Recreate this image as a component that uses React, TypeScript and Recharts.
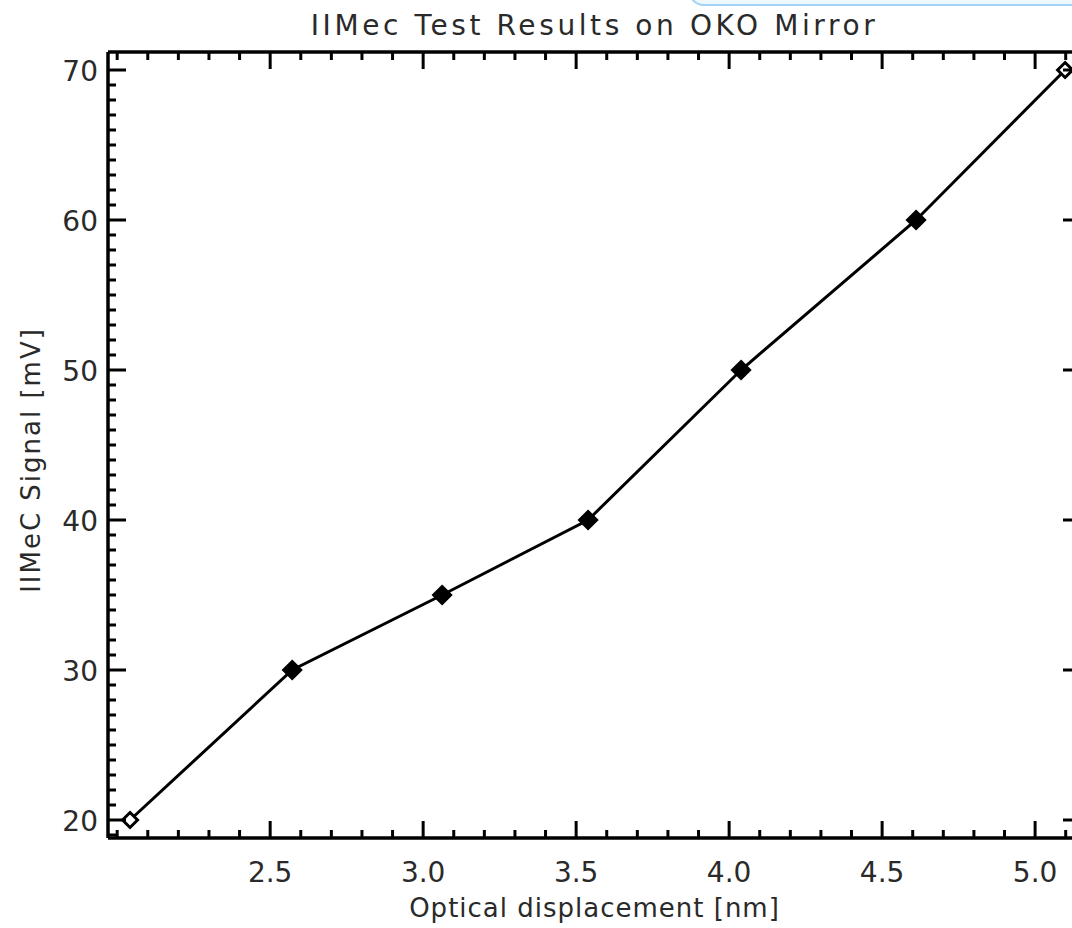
import React from 'react';
import { LineChart, Line, XAxis, YAxis, ReferenceLine } from 'recharts';

// values
const displacement = [2.042, 2.572, 3.062, 3.539, 4.039, 4.611, 5.098];
const signal = [20, 30, 35, 40, 50, 60, 70];

const xMajorTicks = [2.5, 3.0, 3.5, 4.0, 4.5, 5.0];
const xMajorLabels = ['2.5', '3.0', '3.5', '4.0', '4.5', '5.0'];
const yMajorTicks = [20, 30, 40, 50, 60, 70];
const yMajorLabels = ['20', '30', '40', '50', '60', '70'];

const xDomain: [number, number] = [1.97, 5.15];
const yDomain: [number, number] = [18.8, 71.2];

// minor ticks every 0.1 on x, every 1 on y
const xTicks = Array.from({ length: 32 }, (_, i) => Math.round((2.0 + i * 0.1) * 10) / 10);
const yTicks = Array.from({ length: 52 }, (_, i) => 19 + i);

const data = displacement.map((x, i) => ({ x, y: signal[i] }));

// frame
const CHART_W = 1100;
const CHART_H = 928;
const MARGIN = { top: 52, right: 19, bottom: 0, left: 0 };
const Y_AXIS_W = 108;
const X_AXIS_H = 90;
const PLOT_TOP = MARGIN.top;
const PLOT_BOTTOM = CHART_H - MARGIN.bottom - X_AXIS_H;
const PLOT_LEFT = MARGIN.left + Y_AXIS_W;
const PLOT_RIGHT = CHART_W - MARGIN.right;

const FONT = '"DejaVu Sans", sans-serif';
const INK = '#2a2a2a';

const findMajor = (list: number[], v: number) => list.findIndex((t) => Math.abs(t - v) < 1e-6);

const XTick = (props: any) => {
  const { x, payload } = props;
  const idx = findMajor(xMajorTicks, payload.value);
  const len = idx >= 0 ? 17 : 8;
  return (
    <g>
      <line x1={x} x2={x} y1={PLOT_BOTTOM} y2={PLOT_BOTTOM - len} stroke="#000" strokeWidth={3} />
      <line x1={x} x2={x} y1={PLOT_TOP} y2={PLOT_TOP + len} stroke="#000" strokeWidth={3} />
      {idx >= 0 && (
        <text x={x} y={PLOT_BOTTOM + 44} textAnchor="middle" fontFamily={FONT} fontSize={28} fill={INK}>
          {xMajorLabels[idx]}
        </text>
      )}
    </g>
  );
};

const YTick = (props: any) => {
  const { y, payload } = props;
  const idx = findMajor(yMajorTicks, payload.value);
  const len = idx >= 0 ? 18 : 8;
  return (
    <g>
      <line x1={PLOT_LEFT} x2={PLOT_LEFT + len} y1={y} y2={y} stroke="#000" strokeWidth={3} />
      <line x1={PLOT_RIGHT} x2={PLOT_RIGHT - len} y1={y} y2={y} stroke="#000" strokeWidth={3} />
      {idx >= 0 && (
        <text x={PLOT_LEFT - 10} y={y + 11} textAnchor="end" fontFamily={FONT} fontSize={28} fill={INK}>
          {yMajorLabels[idx]}
        </text>
      )}
    </g>
  );
};

const Diamond = (props: any) => {
  const { cx, cy, index } = props;
  if (cx == null || cy == null) return null;
  const hollow = index === 0 || index === displacement.length - 1;
  const r = hollow ? 7.5 : 8.5;
  return (
    <path
      key={`d-${index}`}
      d={`M${cx},${cy - r} L${cx + r},${cy} L${cx},${cy + r} L${cx - r},${cy} Z`}
      fill={hollow ? '#fff' : '#000'}
      stroke="#000"
      strokeWidth={3}
    />
  );
};

const XTitle = () => (
  <text
    x={(PLOT_LEFT + PLOT_RIGHT) / 2}
    y={CHART_H - 11}
    textAnchor="middle"
    fontFamily={FONT}
    fontSize={26}
    letterSpacing={1}
    fill={INK}
  >
    Optical displacement [nm]
  </text>
);

const YTitle = () => {
  const cx = 31;
  const cy = 460;
  return (
    <text
      x={cx}
      y={cy}
      transform={`rotate(-90 ${cx} ${cy})`}
      textAnchor="middle"
      dominantBaseline="central"
      fontFamily={FONT}
      fontSize={26}
      letterSpacing={2}
      fill={INK}
    >
      IIMeC Signal [mV]
    </text>
  );
};

export default function App() {
  return (
    <div
      style={{
        position: 'fixed',
        left: 0,
        top: 0,
        width: 1072,
        height: 928,
        overflow: 'hidden',
        background: '#fff',
      }}
    >
      <LineChart width={CHART_W} height={CHART_H} data={data} margin={MARGIN}>
        <XAxis
          dataKey="x"
          type="number"
          domain={xDomain}
          allowDataOverflow
          ticks={xTicks}
          interval={0}
          tickSize={0}
          tickMargin={0}
          tickLine={false}
          tick={<XTick />}
          height={X_AXIS_H}
          axisLine={{ stroke: '#000', strokeWidth: 3.5 }}
          label={<XTitle />}
        />
        <YAxis
          dataKey="y"
          type="number"
          domain={yDomain}
          allowDataOverflow
          ticks={yTicks}
          interval={0}
          tickSize={0}
          tickMargin={0}
          tickLine={false}
          tick={<YTick />}
          width={Y_AXIS_W}
          axisLine={{ stroke: '#000', strokeWidth: 3.5 }}
          label={<YTitle />}
        />
        <ReferenceLine y={yDomain[1]} stroke="#000" strokeWidth={3.5} />
        <ReferenceLine x={xDomain[1]} stroke="#000" strokeWidth={3.5} />
        <Line
          type="linear"
          dataKey="y"
          stroke="#000"
          strokeWidth={3}
          dot={<Diamond />}
          activeDot={false}
          isAnimationActive={false}
        />
      </LineChart>
      <div
        style={{
          position: 'absolute',
          left: 0,
          width: PLOT_LEFT + PLOT_RIGHT,
          top: 12,
          lineHeight: '28px',
          textAlign: 'center',
          fontFamily: FONT,
          fontSize: 28,
          letterSpacing: 3.6,
          color: INK,
        }}
      >
        IIMec Test Results on OKO Mirror
      </div>
      <div
        style={{
          position: 'absolute',
          left: 688,
          top: -26,
          width: 430,
          height: 28,
          border: '2px solid #9fd4f3',
          borderRadius: 18,
          background: '#eef8fe',
        }}
      />
    </div>
  );
}
